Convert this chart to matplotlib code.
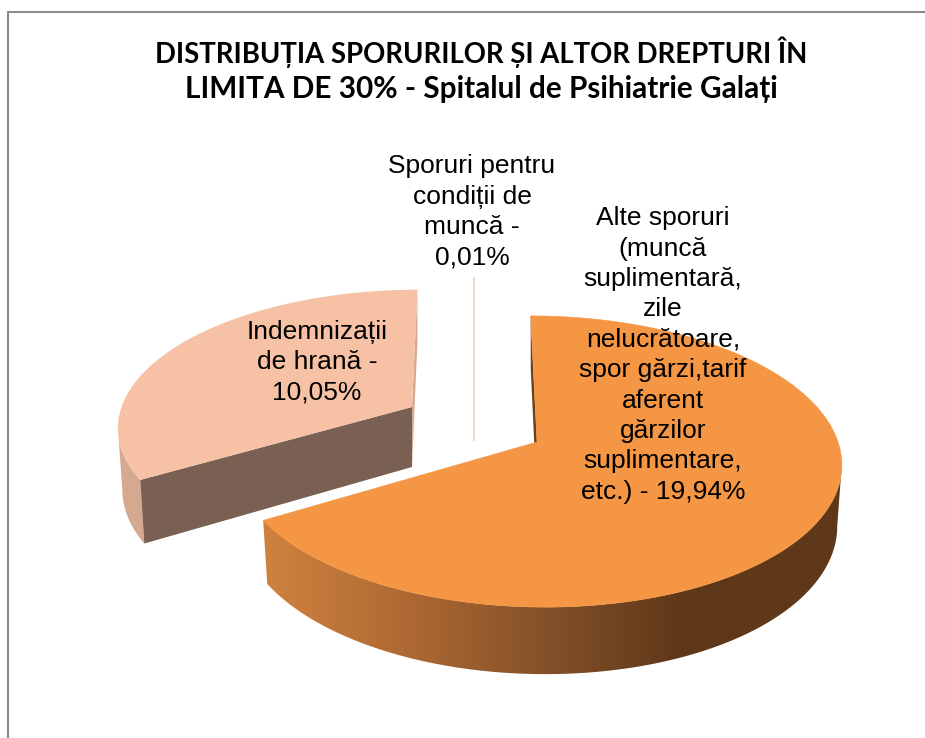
import numpy as np
import matplotlib
matplotlib.use("Agg")
import matplotlib.pyplot as plt
from matplotlib.patches import Polygon
from matplotlib.colors import to_rgb

# Data, clockwise from the top of the pie
categories = ["Alte sporuri", "Indemnizații de hrană", "Sporuri pentru condiții de muncă"]
values = [19.94, 10.05, 0.01]
labels = [
    "Alte sporuri\n(muncă\nsuplimentară,\nzile\nnelucrătoare,\nspor gărzi,tarif\naferent\ngărzilor\nsuplimentare,\netc.) - 19,94%",
    "Indemnizații\nde hrană -\n10,05%",
    "Sporuri pentru\ncondiții de\nmuncă -\n0,01%",
]
title_lines = ["DISTRIBUȚIA SPORURILOR ȘI ALTOR DREPTURI ÎN",
               "LIMITA DE 30% - Spitalul de Psihiatrie Galați"]
title_sizes = [19.8, 21.4]

# Layout, in pixels of the picture
W, H = 925, 738
P = 0.134          # perspective of the disc
RX, RY = 301, 143
DEPTH_BACK, DEPTH_SLOPE = 60, 7
VANISH_X = 475
centers = [(537, 442), (412, 407), (474, 380)]
scales = [(1.0, 1.0), (0.965, 0.93), (1.0, 0.81)]
label_pos = [(663, 355), (317, 362), (472, 212)]

ORANGE, ORANGE_EDGE = "#F49644", "#6B401C"
PINK, PINK_SIDE, PINK_FACE = "#F6C1A5", "#D5A890", "#7A6052"
THIN = "#EFD9CA"
grad_x = [266, 400, 540, 680, 840]
grad_c = ["#CF823E", "#B06A33", "#85522A", "#5F3819", "#5E3818"]


def project(phi, center, scale, lower=False):
    # phi is clockwise from the top of the pie, in radians
    cx, cy = center
    sx, sy = scale
    u, v = np.sin(phi), np.cos(phi)
    d = 1 + P * v
    px = RX * sx * u / d
    py = RY * sy * v / d
    x = cx + px + 0.00081 * py * (VANISH_X - cx)
    y = cy - py
    if lower:
        x = cx + (x - cx) * 0.985
        y = y + DEPTH_BACK - DEPTH_SLOPE * v
    return x, y


def apex(center, lower=False):
    return (center[0], center[1] + (DEPTH_BACK if lower else 0))


fig = plt.figure(figsize=(W / 100, H / 100), dpi=100)
ax = fig.add_axes([0, 0, 1, 1])
ax.axis("off")

# Chart border
ax.plot([8, 8, W], [H, 12, 12], color="#8C8C8C", lw=1.5, solid_joinstyle="miter")

# Slice angles from the values
edges = np.radians(np.concatenate([[0], np.cumsum(values)]) / sum(values) * 360)

# Indemnizatii slice, the rim only shows up to the leftmost point
a0, a1 = edges[1], edges[2]
c, s = centers[1], scales[1]
phi = np.linspace(a0, a1, 200)
tx, ty = project(phi, c, s)
bx, by = project(phi, c, s, lower=True)
n = np.argmin(tx) + 1
ax.add_patch(Polygon(np.c_[np.r_[tx[:n], bx[:n][::-1]], np.r_[ty[:n], by[:n][::-1]]], fc=PINK_SIDE, ec="none"))
ax.add_patch(Polygon([(tx[-1], ty[-1]), (bx[-1], by[-1]), apex(c, True), apex(c)], fc=PINK_SIDE, ec="none"))
ax.add_patch(Polygon([apex(c), (tx[0], ty[0]), (bx[0], by[0]), apex(c, True)], fc=PINK_FACE, ec="none"))
ax.add_patch(Polygon(np.r_[[apex(c)], np.c_[tx, ty]], fc=PINK, ec="none"))

# Very thin slice, only its rim edge is visible
a0, a1 = edges[2], edges[3]
c, s = centers[2], scales[2]
tx, ty = project(np.array([a0, a1]), c, s)
ax.plot([tx[0], tx[0]], [ty[0], c[1] + DEPTH_BACK], color=THIN, lw=1.4)

# Big slice, the rim is a left-to-right gradient clipped to the rim shape
a0, a1 = edges[0], edges[1]
c, s = centers[0], scales[0]
phi = np.linspace(a0, a1, 400)
tx, ty = project(phi, c, s)
bx, by = project(phi, c, s, lower=True)
ax.add_patch(Polygon([(tx[0], ty[0]), (bx[0], by[0]), apex(c, True), apex(c)], fc=ORANGE_EDGE, ec="none"))
xs = np.arange(250, 860)
rgb = np.array([to_rgb(col) for col in grad_c])
strip = np.stack([np.interp(xs, grad_x, rgb[:, i]) for i in range(3)], axis=-1)[np.newaxis, :, :]
n = np.argmax(tx)
rim = Polygon(np.c_[np.r_[tx[n:], bx[n:][::-1]], np.r_[ty[n:], by[n:][::-1]]],
              fc="none", ec="none", transform=ax.transData)
ax.add_patch(rim)
img = ax.imshow(strip, extent=[250, 860, 700, 300], aspect="auto", interpolation="bilinear")
img.set_clip_path(rim)
ax.add_patch(Polygon(np.r_[[apex(c)], np.c_[tx, ty]], fc=ORANGE, ec=ORANGE, lw=0.4))

# imshow resets the limits, so set them after it
ax.set_xlim(0, W)
ax.set_ylim(H, 0)

# Labels
for lab, (x, y) in zip(labels, label_pos):
    ax.text(x, y, lab, ha="center", va="center", ma="center", fontsize=19,
            family="Liberation Sans", color="black", linespacing=1.335)

# Title
for line, size, y in zip(title_lines, title_sizes, [52, 89]):
    ax.text(481, y, line, ha="center", va="center", fontsize=size, family="Lato",
            fontweight="bold", color="black")

fig.savefig("out.png", dpi=100)
